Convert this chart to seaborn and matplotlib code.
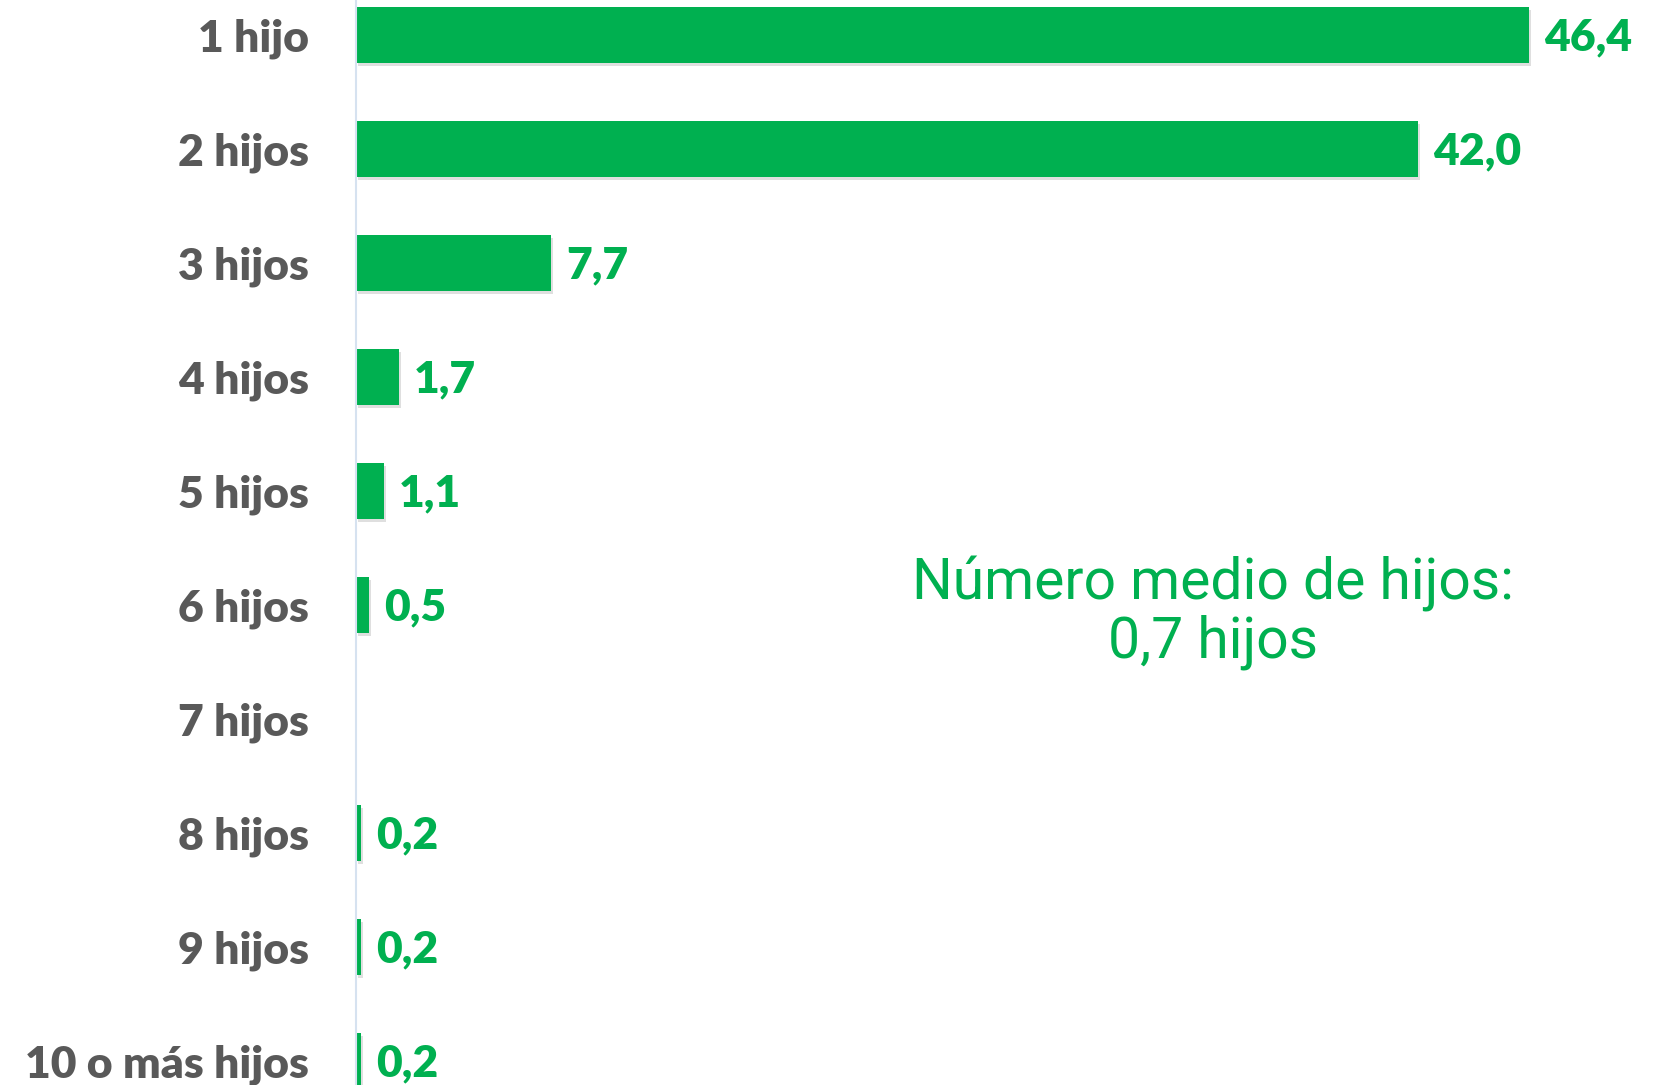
import matplotlib
matplotlib.use("Agg")
import matplotlib.pyplot as plt
import matplotlib.patheffects as pe
import seaborn as sns
import pandas as pd

categories = ["1 hijo", "2 hijos", "3 hijos", "4 hijos", "5 hijos", "6 hijos",
              "7 hijos", "8 hijos", "9 hijos", "10 o más hijos"]
values = [46.4, 42.0, 7.7, 1.7, 1.1, 0.5, 0.0, 0.2, 0.2, 0.2]
value_labels = ["46,4", "42,0", "7,7", "1,7", "1,1", "0,5", "", "0,2", "0,2", "0,2"]
note_text = "Número medio de hijos:\n0,7 hijos"

GREEN = "#00B050"
GRAY = "#595959"

sns.set_style("white")
plt.rcParams["font.family"] = ["Lato", "DejaVu Sans"]

df = pd.DataFrame({"cat": categories, "val": values})

fig = plt.figure(figsize=(16.67, 10.85), dpi=100)
ax = fig.add_axes([356 / 1667, 0, 1 - 356 / 1667, 1])

sns.barplot(data=df, x="val", y="cat", orient="h", color=GREEN, width=0.49,
            saturation=1, ax=ax, order=categories, linewidth=0)

for p in ax.patches:
    p.set_path_effects([pe.SimplePatchShadow(offset=(1.5, -2), alpha=0.25, shadow_rgbFace="gray"),
                        pe.Normal()])

ax.set_xlim(0, 51.86)
ax.set_ylim(9.21, -0.307)
ax.set_xlabel("")
ax.set_ylabel("")
ax.set_xticks([])

for s in ["top", "right", "bottom"]:
    ax.spines[s].set_visible(False)
ax.spines["left"].set_color("#D6E2F0")
ax.spines["left"].set_linewidth(1.5)

ax.tick_params(axis="y", length=0, pad=34)
for t in ax.get_yticklabels():
    t.set_fontsize(32)
    t.set_fontweight("heavy")
    t.set_color(GRAY)

for i, (v, lab) in enumerate(zip(values, value_labels)):
    if lab:
        ax.annotate(lab, xy=(v, i), xytext=(11, -2), textcoords="offset points",
                    ha="left", va="center", fontsize=32, fontweight="heavy",
                    color=GREEN)

fig.text(1213 / 1667, 1 - 613 / 1085, note_text, ha="center", va="center",
         fontsize=41, color=GREEN, family=["Roboto", "DejaVu Sans"],
         linespacing=1.05)

fig.savefig("out.png", dpi=100)
